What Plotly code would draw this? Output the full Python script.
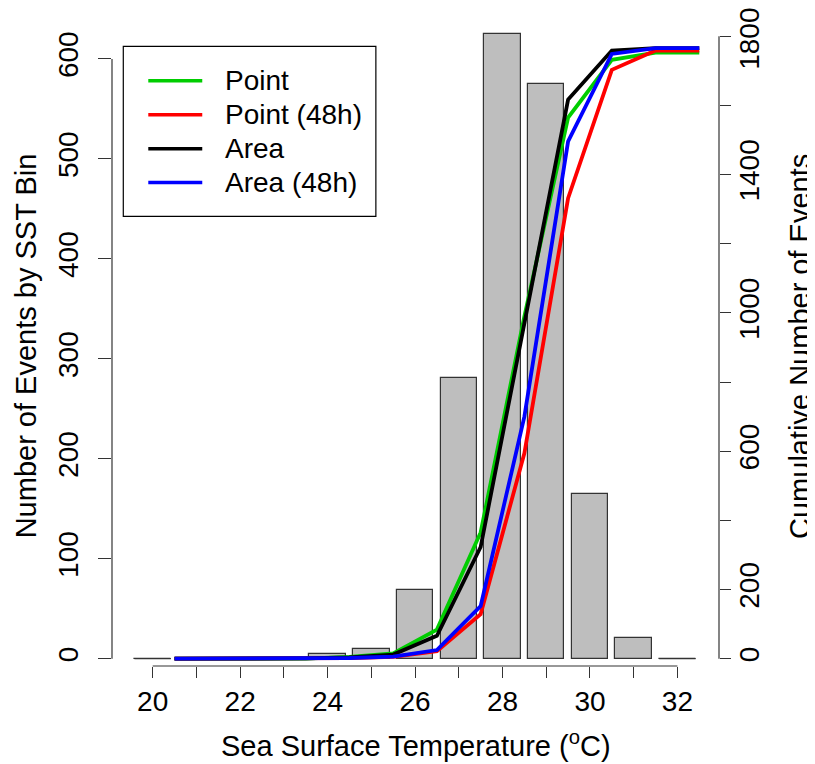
import plotly.graph_objects as go

# ---- data ----
sst_bins = [20, 21, 22, 23, 24, 25, 26, 27, 28, 29, 30, 31, 32]
bin_counts = [0, 0, 0, 0, 5, 10, 69, 281, 625, 575, 165, 21, 0]

cum_x = [20.5, 21.5, 22.5, 23.5, 24.5, 25.5, 26.5, 27.5, 28.5, 29.5, 30.5, 31.5, 32.5]
point = [0, 0, 0, 0, 5, 15, 84, 365, 990, 1565, 1732, 1753, 1753]
point_48h = [0, 0, 0, 1, 2, 5, 22, 129, 594, 1332, 1703, 1759, 1759]
area = [0, 0, 0, 1, 4, 12, 66, 323, 970, 1617, 1759, 1766, 1766]
area_48h = [0, 0, 0, 1, 2, 6, 25, 152, 700, 1496, 1749, 1766, 1766]

series_names = ["Point", "Point (48h)", "Area", "Area (48h)"]
series_vals = [point, point_48h, area, area_48h]
series_colors = ["#00CD00", "#FF0000", "#000000", "#0000FF"]

x_labeled_ticks = [20, 22, 24, 26, 28, 30, 32]
left_ticks = [0, 100, 200, 300, 400, 500, 600]
right_labeled_ticks = [0, 200, 600, 1000, 1400]
right_top_label = 1800  # drawn separately so it is not clipped at the page top

# ---- layout geometry (page pixels; page body has an 8px margin) ----
OFF = 8
PAGE_W, PAGE_H = 815, 764
W, H = PAGE_W - OFF, PAGE_H - OFF
L, R, T, B = 112, 719.3, 9.4, 666
PW, PH = R - L, B - T
FONT = "Liberation Sans, Arial, Helvetica, sans-serif"
FS_TICK = 28
FS_LAB = 29
FS_LEG = 28
BAR_W = 1 / 1.2


def px(x):
    return (x - L) / PW


def py(y):
    return (B - y) / PH


fig = go.Figure()

fig.add_trace(go.Bar(
    x=sst_bins, y=bin_counts, width=BAR_W,
    marker=dict(color="#BEBEBE", line=dict(color="#333333", width=1.2)),
    showlegend=False, hoverinfo="x+y",
))

# zero-height bars are drawn by R as flat lines
for c, v in zip(sst_bins, bin_counts):
    if v == 0:
        fig.add_trace(go.Scatter(
            x=[c - BAR_W / 2, c + BAR_W / 2], y=[v, v], mode="lines",
            line=dict(color="#333333", width=1.2), showlegend=False, hoverinfo="skip",
        ))

for name, vals, col in zip(series_names, series_vals, series_colors):
    fig.add_trace(go.Scatter(
        x=cum_x, y=vals, mode="lines", name=name, yaxis="y2",
        line=dict(color=col, width=3.8), showlegend=False,
    ))

# left y: 0 -> 658.7px, 600 -> 59.3px ; right y: 1800 -> 36.7px
ly_per = (658.7 - 59.3) / 600
ly_range = [(658.7 - B) / ly_per, (658.7 - T) / ly_per]
ry_per = (658.7 - 36.7) / 1800
ry_range = [(658.7 - B) / ry_per, (658.7 - T) / ry_per]
x_per = (677.7 - 152.7) / 12
x_range = [20 + (L - 152.7) / x_per, 20 + (R - 152.7) / x_per]

tickfont = dict(family=FONT, size=FS_TICK, color="black")
axcol = "#333333"

fig.update_layout(
    width=W, height=H,
    margin=dict(l=L - OFF, r=PAGE_W - R, t=T - OFF, b=PAGE_H - B, pad=0, autoexpand=False),
    paper_bgcolor="white", plot_bgcolor="white",
    font=dict(family=FONT, size=FS_TICK, color="black"),
    bargap=0,
    xaxis=dict(range=x_range, tickvals=x_labeled_ticks, automargin=False,
               ticks="outside", ticklen=11, tickwidth=1.2, tickcolor=axcol,
               minor=dict(ticks="outside", ticklen=11, tickwidth=1.2, tickcolor=axcol,
                          dtick=1, tick0=20, showgrid=False),
               showgrid=False, zeroline=False, showline=False, tickfont=tickfont,
               ticklabelstandoff=-1, ticklabeloverflow="allow"),
    yaxis=dict(range=ly_range, tickvals=left_ticks, ticks="outside", ticklen=12.7,
               tickwidth=1.2, tickcolor=axcol, tickangle=-90, automargin=False,
               showgrid=False, zeroline=False, showline=False, tickfont=tickfont,
               ticklabelstandoff=9, ticklabeloverflow="allow"),
    yaxis2=dict(range=ry_range, tickvals=right_labeled_ticks,
                overlaying="y", side="right", ticks="outside", ticklen=11,
                tickwidth=1.2, tickcolor=axcol, tickangle=-90, automargin=False,
                minor=dict(ticks="outside", ticklen=11, tickwidth=1.2, tickcolor=axcol,
                           dtick=200, tick0=0, showgrid=False),
                showgrid=False, zeroline=False, showline=False, tickfont=tickfont,
                ticklabelstandoff=-6, ticklabeloverflow="allow"),
)

# top right tick label, nudged down just enough to stay inside the page
fig.add_annotation(text=str(right_top_label), xref="paper", yref="paper",
                   x=px(749.5), y=py(39), showarrow=False, textangle=-90,
                   xanchor="center", yanchor="middle", font=tickfont)

# R-style axis lines spanning first to last tick
fig.add_shape(type="line", xref="paper", yref="y", x0=0, x1=0, y0=0, y1=600,
              line=dict(color=axcol, width=1.2))
fig.add_shape(type="line", xref="paper", yref="y2", x0=1, x1=1, y0=0, y1=1800,
              line=dict(color=axcol, width=1.2))
fig.add_shape(type="line", xref="x", yref="paper", x0=20, x1=32, y0=0, y1=0,
              line=dict(color=axcol, width=1.2))

# axis titles
fig.add_annotation(text="Sea Surface Temperature (<sup>o</sup>C)", xref="paper", yref="paper",
                   x=px(415.7), y=py(744), showarrow=False, xanchor="center", yanchor="middle",
                   font=dict(family=FONT, size=FS_LAB))
fig.add_annotation(text="Number of Events by SST Bin", xref="paper", yref="paper",
                   x=px(26), y=py(346.5), showarrow=False, textangle=-90,
                   xanchor="center", yanchor="middle", font=dict(family=FONT, size=FS_LAB))
fig.add_annotation(text="Cumulative Number of Events", xref="paper", yref="paper",
                   x=px(801), y=py(346.5), showarrow=False, textangle=-90,
                   xanchor="center", yanchor="middle", font=dict(family=FONT, size=FS_LAB))

# legend box
fig.add_shape(type="rect", xref="paper", yref="paper",
              x0=px(123.3), x1=px(376), y0=py(216.7), y1=py(46.7),
              line=dict(color="black", width=1.2), fillcolor="white")
leg_y = [81, 115, 149, 182.7]
for name, col, yy in zip(series_names, series_colors, leg_y):
    fig.add_shape(type="line", xref="paper", yref="paper",
                  x0=px(148.3), x1=px(202.3), y0=py(yy), y1=py(yy),
                  line=dict(color=col, width=3.5))
    fig.add_annotation(text=name, xref="paper", yref="paper", x=px(223), y=py(yy),
                       showarrow=False, xanchor="left", yanchor="middle",
                       font=dict(family=FONT, size=FS_LEG))

fig.write_html("out.html")
